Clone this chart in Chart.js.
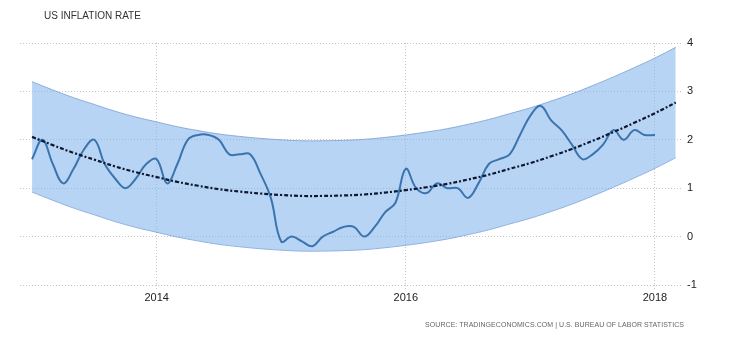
<!DOCTYPE html>
<html>
<head>
<meta charset="utf-8">
<script src="https://cdn.jsdelivr.net/npm/chart.js@4"></script>
<style>
  html, body { margin: 0; padding: 0; background: #fff; }
  #wrap { position: relative; width: 730px; height: 340px; }
  canvas { position: absolute; left: 0; top: 0; }
  #title { position: absolute; left: 44px; top: 10px; font: 10px "Liberation Sans", Arial, sans-serif; color: #333; }
  #source { position: absolute; right: 46px; top: 321px; font: 7px "Liberation Sans", Arial, sans-serif; color: #666; white-space: nowrap; letter-spacing: 0.05px; }
</style>
</head>
<body>
<div id="wrap">
  <canvas id="c" width="730" height="340"></canvas>
  <div id="title">US INFLATION RATE</div>
  <div id="source">SOURCE: TRADINGECONOMICS.COM | U.S.  BUREAU OF LABOR STATISTICS</div>
</div>
<script>
// Months since Jan 2013 (0 = Jan 2013 ... 60 = Jan 2018)
const inflation = [
  1.6, 2.0, 1.5, 1.1, 1.4, 1.8, 2.0, 1.5, 1.2, 1.0, 1.2, 1.5,
  1.6, 1.1, 1.5, 2.0, 2.1, 2.1, 2.0, 1.7, 1.7, 1.7, 1.3, 0.8,
  -0.1, 0.0, -0.1, -0.2, 0.0, 0.1, 0.2, 0.2, 0.0, 0.2, 0.5, 0.7,
  1.4, 1.0, 0.9, 1.1, 1.0, 1.0, 0.8, 1.1, 1.5, 1.6, 1.7, 2.1,
  2.5, 2.7, 2.4, 2.2, 1.9, 1.6, 1.7, 1.9, 2.2, 2.0, 2.2, 2.1,
  2.1
];
const trendMonths = [0,2,4,6,8,10,12,14,16,18,20,22,24,26,28,30,32,34,36,38,40,42,44,46,48,50,52,54,56,58,60,62];
const trend = [2.06,1.89,1.73,1.59,1.45,1.33,1.23,1.13,1.05,0.98,0.93,0.89,0.86,0.84,0.84,0.85,0.87,0.91,0.96,1.02,1.09,1.18,1.28,1.40,1.52,1.66,1.81,1.98,2.16,2.35,2.55,2.77];
const bandUpper = [3.20,3.03,2.87,2.73,2.59,2.47,2.37,2.27,2.19,2.12,2.07,2.03,2.00,1.98,1.98,1.99,2.01,2.05,2.10,2.16,2.23,2.32,2.42,2.54,2.66,2.80,2.95,3.12,3.30,3.49,3.69,3.91];
const bandLower = [0.92,0.75,0.59,0.45,0.31,0.19,0.09,-0.01,-0.09,-0.16,-0.21,-0.25,-0.28,-0.30,-0.30,-0.29,-0.27,-0.23,-0.18,-0.12,-0.05,0.04,0.14,0.26,0.38,0.52,0.67,0.84,1.02,1.21,1.41,1.63];
const xTickMonths = [12, 36, 60];
const xTickLabels = ['2014', '2016', '2018'];
const yTicks = [-1, 0, 1, 2, 3, 4];

const pts = (xs, ys) => ys.map((v, i) => ({ x: xs[i], y: v }));
const inflPts = inflation.map((v, i) => ({ x: i, y: v }));

new Chart(document.getElementById('c'), {
  type: 'line',
  data: {
    datasets: [
      {
        data: pts(trendMonths, bandUpper),
        borderColor: 'rgba(120,158,210,0.8)', borderWidth: 1,
        backgroundColor: 'rgba(137,183,238,0.6)',
        fill: '+1', pointRadius: 0, tension: 0.4, order: 3
      },
      {
        data: pts(trendMonths, bandLower),
        borderColor: 'rgba(120,158,210,0.8)', borderWidth: 1,
        fill: false, pointRadius: 0, tension: 0.4, order: 4
      },
      {
        data: inflPts,
        borderColor: '#3a74ae', borderWidth: 2,
        fill: false, pointRadius: 0, tension: 0.4, order: 2
      },
      {
        data: pts(trendMonths, trend),
        borderColor: '#0c1830', borderWidth: 2.2,
        borderDash: [4, 2, 2, 2],
        fill: false, pointRadius: 0, tension: 0.4, order: 1
      }
    ]
  },
  options: {
    responsive: false,
    animation: false,
    layout: { padding: { left: 20, top: 43, right: 0, bottom: 0 } },
    plugins: { legend: { display: false }, tooltip: { enabled: false } },
    scales: {
      x: {
        type: 'linear', min: -1.16, max: 62.7,
        afterBuildTicks: s => { s.ticks = xTickMonths.map(v => ({ value: v })); },
        afterFit: s => { s.height = 55; },
        grid: { color: '#c4c4c4', tickLength: 5, tickBorderDash: [1, 2] },
        border: { display: false, dash: [1, 2] },
        ticks: {
          autoSkip: false, maxRotation: 0, padding: 1,
          color: '#222', font: { family: 'Liberation Sans', size: 11 },
          callback: v => xTickLabels[xTickMonths.indexOf(v)]
        }
      },
      y: {
        position: 'right', min: -1, max: 4,
        afterBuildTicks: s => { s.ticks = yTicks.map(v => ({ value: v })); },
        afterFit: s => { s.width = 47; },
        grid: { color: '#c4c4c4', tickLength: 0 },
        border: { display: false, dash: [1, 2] },
        ticks: {
          padding: 4, color: '#222', font: { family: 'Liberation Sans', size: 11 },
          callback: v => String(v)
        }
      }
    }
  }
});
</script>
</body>
</html>
